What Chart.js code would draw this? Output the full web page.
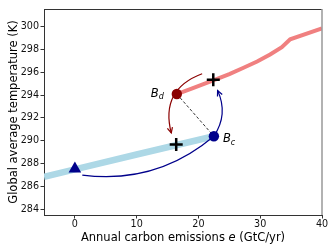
<!DOCTYPE html>
<html>
<head>
<meta charset="utf-8">
<script src="https://cdn.jsdelivr.net/npm/chart.js@4.4.1/dist/chart.umd.min.js"></script>
<style>
  html, body { margin: 0; padding: 0; background: #fff; }
  #wrap { width: 336px; height: 252px; }
</style>
</head>
<body>
<div id="wrap"><canvas id="chart" width="336" height="252"></canvas></div>
<script>
// blue (lower) branch and red (upper) branch
const blueE = [-5, 0, 10, 22.5];
const blueT = [286.85, 287.5, 288.8, 290.4];
const redE = [16.5, 19, 22.4, 25, 27.3, 29.5, 31.6, 33.5, 34.85, 40];
const redT = [294.1, 294.6, 295.3, 295.85, 296.4, 296.95, 297.56, 298.2, 298.9, 299.86];

// markers
const startE = [0], startT = [287.55];
const bcE = [22.5], bcT = [290.4];
const bdE = [16.5], bdT = [294.1];
const plusE = [16.4, 22.4], plusT = [289.68, 295.36];

// ticks
const xTicks = [0, 10, 20, 30, 40];
const yTicks = [284, 286, 288, 290, 292, 294, 296, 298, 300];

// curved arrows: from, to (data units), bend, colour, head
const arrowFrom = [[20.6, 295.88], [22.5, 290.4], [1.2, 287.0]];
const arrowTo = [[15.6, 290.69], [23.1, 294.4], [22.5, 290.4]];
const arrowRad = [0.45, 0.28, 0.22];
const arrowColor = ["#8b0000", "#00008b", "#00008b"];
const arrowHead = [true, true, false];

const FONT = "DejaVu Sans";
const pts = (xs, ys) => xs.map((x, i) => ({ x, y: ys[i] }));

function drawArrows(chart) {
    const ctx = chart.ctx;
    const xs = chart.scales.x, ys = chart.scales.y;
    ctx.save();
    arrowFrom.forEach((f, i) => {
        const p0 = { x: xs.getPixelForValue(f[0]), y: ys.getPixelForValue(f[1]) };
        const p1 = { x: xs.getPixelForValue(arrowTo[i][0]), y: ys.getPixelForValue(arrowTo[i][1]) };
        const dx = p1.x - p0.x, dy = p1.y - p0.y;
        const cx = (p0.x + p1.x) / 2 - arrowRad[i] * dy;
        const cy = (p0.y + p1.y) / 2 + arrowRad[i] * dx;
        ctx.strokeStyle = arrowColor[i];
        ctx.lineWidth = 1.2;
        ctx.beginPath();
        ctx.moveTo(p0.x, p0.y);
        ctx.quadraticCurveTo(cx, cy, p1.x, p1.y);
        ctx.stroke();
        if (arrowHead[i]) {
            const a = Math.atan2(p1.y - cy, p1.x - cx);
            const L = 6, w = 0.45;
            ctx.beginPath();
            ctx.moveTo(p1.x - L * Math.cos(a - w), p1.y - L * Math.sin(a - w));
            ctx.lineTo(p1.x, p1.y);
            ctx.lineTo(p1.x - L * Math.cos(a + w), p1.y - L * Math.sin(a + w));
            ctx.stroke();
        }
    });
    ctx.restore();
}

function subLabel(ctx, x, y, main, sub) {
    ctx.font = "italic 11.5px '" + FONT + "'";
    ctx.fillText(main, x, y);
    const w = ctx.measureText(main).width;
    ctx.font = "italic 8px '" + FONT + "'";
    ctx.fillText(sub, x + w, y + 2.5);
}

const extras = {
    id: "extras",
    afterDatasetDraw(chart, args) {
        if (args.meta.order === 8) drawArrows(chart);
    },
    afterDraw(chart) {
        const ctx = chart.ctx, a = chart.chartArea;
        const xs = chart.scales.x, ys = chart.scales.y;
        ctx.save();
        // top and right spines
        ctx.strokeStyle = "#333";
        ctx.lineWidth = 1;
        ctx.beginPath();
        ctx.moveTo(a.left, a.top + 0.5);
        ctx.lineTo(a.right, a.top + 0.5);
        ctx.stroke();
        ctx.strokeStyle = "#999";
        ctx.lineWidth = 1.5;
        ctx.beginPath();
        ctx.moveTo(a.right, a.top);
        ctx.lineTo(a.right, a.bottom);
        ctx.stroke();

        // point labels
        ctx.fillStyle = "#000";
        ctx.textAlign = "left";
        ctx.textBaseline = "alphabetic";
        subLabel(ctx, xs.getPixelForValue(bdE[0]) - 26, ys.getPixelForValue(bdT[0]) + 2.5, "B", "d");
        subLabel(ctx, xs.getPixelForValue(bcE[0]) + 9, ys.getPixelForValue(bcT[0]) + 6, "B", "c");

        // x axis title with italic e
        const parts = [["Annual carbon emissions ", ""], ["e", "italic "], [" (GtC/yr)", ""]];
        let total = 0;
        parts.forEach(p => { ctx.font = p[1] + "11.5px '" + FONT + "'"; total += ctx.measureText(p[0]).width; });
        let x = (a.left + a.right) / 2 - total / 2;
        parts.forEach(p => {
            ctx.font = p[1] + "11.5px '" + FONT + "'";
            ctx.fillText(p[0], x, 240.5);
            x += ctx.measureText(p[0]).width;
        });

        // y axis title
        ctx.translate(16.5, (a.top + a.bottom) / 2);
        ctx.rotate(-Math.PI / 2);
        ctx.textAlign = "center";
        ctx.font = "11.5px '" + FONT + "'";
        ctx.fillText("Global average temperature (K)", 0, 0);
        ctx.restore();
    }
};

new Chart(document.getElementById("chart"), {
    type: "scatter",
    data: {
        datasets: [
            { data: pts(blueE, blueT), showLine: true, borderColor: "#add8e6", borderWidth: 6.5, pointRadius: 0, order: 10 },
            { data: pts(redE, redT), showLine: true, borderColor: "#f08080", borderWidth: 4, pointRadius: 0, order: 9 },
            { data: pts([bdE[0], bcE[0]], [bdT[0], bcT[0]]), showLine: true, borderColor: "#000", borderWidth: 0.8, borderDash: [3, 2], pointRadius: 0, order: 8 },
            { data: pts(plusE, plusT), pointStyle: "cross", pointRadius: 6.5, borderColor: "#000", borderWidth: 2.5, order: 5 },
            { data: pts(startE, startT), pointStyle: "triangle", pointRadius: 7.3, backgroundColor: "#00008b", borderColor: "#00008b", borderWidth: 0, order: 4 },
            { data: pts(bcE, bcT), pointStyle: "circle", pointRadius: 5.2, backgroundColor: "#00008b", borderColor: "#00008b", borderWidth: 0, order: 4 },
            { data: pts(bdE, bdT), pointStyle: "circle", pointRadius: 5.2, backgroundColor: "#8b0000", borderColor: "#8b0000", borderWidth: 0, order: 4 }
        ]
    },
    options: {
        responsive: false,
        animation: false,
        events: [],
        layout: { padding: { left: 0, right: 14, top: 6, bottom: 0 } },
        plugins: { legend: { display: false }, tooltip: { enabled: false } },
        scales: {
            x: {
                type: "linear", min: -5, max: 40,
                afterBuildTicks: s => { s.ticks = xTicks.map(v => ({ value: v })); },
                afterFit: s => { s.height = 37; },
                grid: { drawOnChartArea: false, drawTicks: true, tickLength: 3.5, color: "#333" },
                border: { display: true, color: "#333", width: 1 },
                ticks: { color: "#111", padding: 0, maxRotation: 0, font: { family: FONT, size: 9.6 } }
            },
            y: {
                type: "linear", min: 283.5, max: 301.55,
                afterBuildTicks: s => { s.ticks = yTicks.map(v => ({ value: v })); },
                afterFit: s => { s.width = 44; },
                grid: { drawOnChartArea: false, drawTicks: true, tickLength: 3.5, color: "#333" },
                border: { display: true, color: "#333", width: 1 },
                ticks: { color: "#111", padding: 1.5, font: { family: FONT, size: 9.6 } }
            }
        }
    },
    plugins: [extras]
});
</script>
</body>
</html>
